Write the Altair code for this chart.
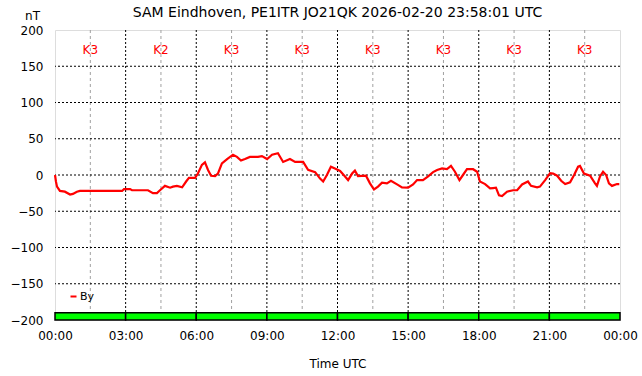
import altair as alt
import pandas as pd

# By component (nT) against time of day (hours UTC)
hours = [0.0, 0.04, 0.085, 0.21, 0.42, 0.64, 0.76, 0.93, 1.06, 2.85, 2.93, 3.19, 3.27, 3.95,
         4.16, 4.33, 4.46, 4.67, 4.89, 5.01, 5.18, 5.40, 5.57, 5.69, 5.95, 6.07, 6.24, 6.37,
         6.50, 6.63, 6.80, 6.92, 7.09, 7.31, 7.56, 7.73, 7.90, 8.07, 8.28, 8.62, 8.79, 9.01,
         9.22, 9.47, 9.69, 9.98, 10.20, 10.54, 10.75, 11.05, 11.26, 11.39, 11.55, 11.72, 11.89,
         12.11, 12.32, 12.45, 12.62, 12.74, 12.87, 13.21, 13.38, 13.55, 13.72, 13.89, 14.10,
         14.27, 14.53, 14.74, 15.00, 15.21, 15.38, 15.63, 15.85, 16.06, 16.23, 16.44, 16.65,
         16.82, 16.99, 17.18, 17.33, 17.50, 17.76, 17.93, 18.05, 18.27, 18.48, 18.61, 18.73,
         18.86, 18.99, 19.20, 19.46, 19.63, 19.84, 20.09, 20.22, 20.48, 20.60, 20.82, 21.03,
         21.16, 21.33, 21.50, 21.67, 21.88, 22.05, 22.22, 22.30, 22.47, 22.73, 22.94, 23.02,
         23.15, 23.28, 23.41, 23.53, 23.66, 23.87, 23.97]
by_values = [0, -9, -16, -22, -23, -27, -26, -23, -22, -22, -19.5, -19.5, -21, -21,
             -25, -25, -21, -15, -17.5, -16, -15, -17, -9, -4, -4, 2, 14, 17.5,
             7, -1, -1.5, 2, 16, 22, 28, 25, 20, 22, 25, 25, 26, 22,
             28, 30, 18, 22, 18, 18, 7, 4, -5, -9, 0, 11.5, 9,
             5.5, -2, -7, 2, 6, -1.5, -1, -11.5, -20, -16, -10.5, -11.5,
             -8, -13, -17, -17.5, -13, -7, -7, -2, 4, 7, 9, 8,
             12.5, 4.5, -7, 0, 8, 8, 4.5, -9, -12.5, -18.5, -18, -17.5,
             -28, -29, -23, -21, -21, -13, -9, -15, -17, -16, -7, 2.5,
             2, -1, -8, -12.5, -10, 0, 11.5, 12.5, 2, -1, -11.5, -15,
             -2, 4.5, 0, -11.5, -15, -12.5, -12.5]

# K index per 3-hour block
k_start = [0, 3, 6, 9, 12, 15, 18, 21]
k_labels = ["K3", "K2", "K3", "K3", "K3", "K3", "K3", "K3"]

major_x = [3, 6, 9, 12, 15, 18, 21]
minor_x = [1.5, 4.5, 7.5, 10.5, 13.5, 16.5, 19.5, 22.5]
grid_y = [-150, -100, -50, 0, 50, 100, 150]
y_ticks = [-200, -150, -100, -50, 0, 50, 100, 150, 200]
x_ticks = [0, 3, 6, 9, 12, 15, 18, 21, 24]

FONT = "DejaVu Sans"

line_df = pd.DataFrame({"h": hours, "v": by_values, "series": "By"})
k_df = pd.DataFrame({"h0": k_start, "h1": [s + 3 for s in k_start],
                     "hm": [s + 1.5 for s in k_start], "k": k_labels})
k_df["ytxt"] = 172
k_df["yb0"] = -200
k_df["yb1"] = -190

xscale = alt.Scale(domain=[0, 24], nice=False, zero=False)
yscale = alt.Scale(domain=[-200, 200], nice=False, zero=False)

x_axis = alt.Axis(values=x_ticks, grid=False, ticks=False, domain=False,
                  labelExpr="(datum.value % 24 < 10 ? '0' : '') + (datum.value % 24) + ':00'",
                  labelFont=FONT, labelFontSize=12, labelColor="black", labelPadding=10,
                  labelFlush=False, labelOverlap=False, title="Time UTC", titleFont=FONT,
                  titleFontSize=12, titleFontWeight="normal", titleColor="black",
                  titlePadding=17)
y_axis = alt.Axis(values=y_ticks, grid=False, ticks=False, domain=False,
                  labelFont=FONT, labelFontSize=12, labelColor="black", labelPadding=12,
                  labelOverlap=False, labelFlush=False,
                  title="nT", titleAngle=0, titleX=-23, titleY=-15, titleAlign="center",
                  titleBaseline="middle", titleFont=FONT, titleFontSize=12,
                  titleFontWeight="normal", titleColor="black")

minor = alt.Chart(pd.DataFrame({"h": minor_x})).mark_rule(
    color="#a0a0a0", strokeDash=[3, 3], strokeWidth=1).encode(
    x=alt.X("h:Q", scale=xscale, axis=x_axis))
major = alt.Chart(pd.DataFrame({"h": major_x})).mark_rule(
    color="black", strokeDash=[2, 2], strokeWidth=1).encode(
    x=alt.X("h:Q", scale=xscale, axis=x_axis))
hgrid = alt.Chart(pd.DataFrame({"v": grid_y})).mark_rule(
    color="black", strokeDash=[2, 2], strokeWidth=1).encode(
    y=alt.Y("v:Q", scale=yscale, axis=y_axis))

bars = alt.Chart(k_df).mark_rect(color="#00ff00", stroke="black", strokeWidth=1.5).encode(
    x=alt.X("h0:Q", scale=xscale, axis=x_axis), x2="h1",
    y=alt.Y("yb0:Q", scale=yscale, axis=y_axis), y2="yb1")
ktext = alt.Chart(k_df).mark_text(color="#ff0000", font=FONT, fontSize=12).encode(
    x=alt.X("hm:Q", scale=xscale, axis=x_axis),
    y=alt.Y("ytxt:Q", scale=yscale, axis=y_axis), text="k:N")

line = alt.Chart(line_df).mark_line(strokeWidth=2.2, interpolate="linear").encode(
    x=alt.X("h:Q", scale=xscale, axis=x_axis),
    y=alt.Y("v:Q", scale=yscale, axis=y_axis),
    color=alt.Color("series:N", scale=alt.Scale(domain=["By"], range=["#ff0000"]),
                    legend=alt.Legend(orient="none", legendX=13, legendY=261, title=None,
                                      symbolType="stroke", symbolSize=36,
                                      symbolStrokeWidth=2, labelFont=FONT,
                                      labelFontSize=11, labelColor="black",
                                      labelOffset=1, padding=0)))

chart = alt.layer(minor, major, hgrid, bars, ktext, line).properties(
    width=565, height=290,
    autosize=alt.AutoSizeParams(type="none"),
    padding={"left": 55, "top": 30, "right": 22, "bottom": 56},
    title=alt.TitleParams("SAM Eindhoven, PE1ITR JO21QK 2026-02-20 23:58:01 UTC",
                          font=FONT, fontSize=14, fontWeight="normal", color="black",
                          anchor="middle", offset=-11),
).configure_view(stroke="black", strokeWidth=1).configure_axis(
    labelOverlap=False).configure(background="white")

chart.save("out.html", embed_options={"renderer": "svg", "actions": False})
